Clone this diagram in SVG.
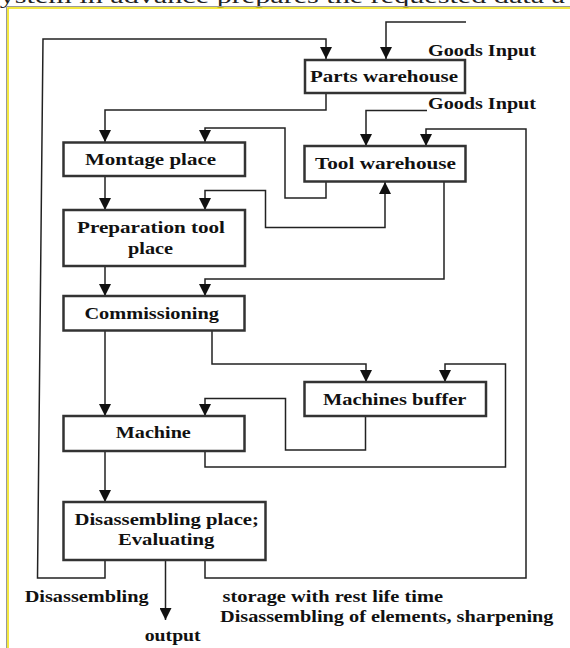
<svg xmlns="http://www.w3.org/2000/svg" width="570" height="648" viewBox="0 0 570 648">
<style>
.box{fill:#fff;stroke:#333;stroke-width:2.5}
.lbl{font-family:"Liberation Serif","Times New Roman",serif;font-weight:bold;font-size:17px;fill:#111}
.c{text-anchor:middle}
.ln{fill:none;stroke:#222;stroke-width:1.5}
.top{font-family:"Liberation Serif","Times New Roman",serif;font-size:22px;fill:#222}
</style>
<defs>
<marker id="ah" markerUnits="userSpaceOnUse" markerWidth="12" markerHeight="12" refX="12" refY="6" orient="auto-start-reverse" viewBox="0 0 12 12">
<path d="M0,0 L12,6 L0,12 z" fill="#111"/>
</marker>
</defs>
<rect width="570" height="648" fill="#fff"/>
<text class="top" x="-12" y="2.5" textLength="577" lengthAdjust="spacingAndGlyphs">system in advance prepares the requested data a</text>
<polyline points="570,6.5 6.5,6.5 6.5,648" fill="none" stroke="#999" stroke-width="1"/>
<polyline points="570,8 8,8 8,648" fill="none" stroke="#f0e000" stroke-width="1.5"/>

<g id="connectors">
<path class="ln" d="M105,560 V578 H37.5 L43,39 H326 V59" marker-end="url(#ah)"/>
<path class="ln" d="M466,22 H386 V59" marker-end="url(#ah)"/>
<path class="ln" d="M326,93 V110 H105 V142" marker-end="url(#ah)"/>
<path class="ln" d="M427,110.5 H366 V146" marker-end="url(#ah)"/>
<path class="ln" d="M326,182 V198 H285 V128 H205 V142" marker-end="url(#ah)"/>
<path class="ln" d="M205,560 V578 H526 V129 H426 V146" marker-end="url(#ah)"/>
<path class="ln" d="M105,176 V210" marker-end="url(#ah)"/>
<path class="ln" d="M205,210 V190.5 H265.5 V227.5 H385 V182" marker-start="url(#ah)" marker-end="url(#ah)"/>
<path class="ln" d="M105,266 V296" marker-end="url(#ah)"/>
<path class="ln" d="M444,182 V279 H205 V296" marker-end="url(#ah)"/>
<path class="ln" d="M105,331 V416" marker-end="url(#ah)"/>
<path class="ln" d="M212,331 V364 H366 V382" marker-end="url(#ah)"/>
<path class="ln" d="M205,451 V467 H505.5 V364 H445 V382" marker-end="url(#ah)"/>
<path class="ln" d="M365.5,416 V450 H285.5 V398.5 H205 V416" marker-end="url(#ah)"/>
<path class="ln" d="M105,451 V502" marker-end="url(#ah)"/>
<path class="ln" d="M165.5,560 V620" marker-end="url(#ah)"/>
</g>

<g id="parts-warehouse">
<rect class="box" x="305" y="60" width="160" height="33"/>
<text class="lbl c" x="384" y="82" textLength="148" lengthAdjust="spacingAndGlyphs">Parts warehouse</text>
</g>
<g id="goods-input-1">
<text class="lbl" x="428" y="56" textLength="108" lengthAdjust="spacingAndGlyphs">Goods Input</text>
</g>
<g id="goods-input-2">
<text class="lbl" x="428" y="109" textLength="108" lengthAdjust="spacingAndGlyphs">Goods Input</text>
</g>
<g id="montage-place">
<rect class="box" x="63.5" y="142.5" width="181.5" height="33.5"/>
<text class="lbl c" x="150.5" y="165" textLength="131" lengthAdjust="spacingAndGlyphs">Montage place</text>
</g>
<g id="tool-warehouse">
<rect class="box" x="304.5" y="146" width="161" height="35.5"/>
<text class="lbl c" x="385.5" y="169" textLength="141" lengthAdjust="spacingAndGlyphs">Tool warehouse</text>
</g>
<g id="preparation-tool-place">
<rect class="box" x="63.5" y="210" width="181.5" height="56"/>
<text class="lbl c" x="151" y="233" textLength="148" lengthAdjust="spacingAndGlyphs">Preparation tool</text>
<text class="lbl c" x="150.5" y="254" textLength="45" lengthAdjust="spacingAndGlyphs">place</text>
</g>
<g id="commissioning">
<rect class="box" x="63.5" y="296" width="181" height="34.5"/>
<text class="lbl c" x="151.7" y="319" textLength="134.5" lengthAdjust="spacingAndGlyphs">Commissioning</text>
</g>
<g id="machines-buffer">
<rect class="box" x="304.5" y="382" width="181.5" height="34"/>
<text class="lbl c" x="394.7" y="405" textLength="143.5" lengthAdjust="spacingAndGlyphs">Machines buffer</text>
</g>
<g id="machine">
<rect class="box" x="63.5" y="416" width="181" height="35"/>
<text class="lbl c" x="153.3" y="438" textLength="75" lengthAdjust="spacingAndGlyphs">Machine</text>
</g>
<g id="disassembling-place">
<rect class="box" x="63.5" y="502" width="202" height="58"/>
<text class="lbl c" x="166.7" y="525" textLength="184.5" lengthAdjust="spacingAndGlyphs">Disassembling place;</text>
<text class="lbl c" x="166.2" y="545" textLength="96.5" lengthAdjust="spacingAndGlyphs">Evaluating</text>
</g>
<g id="labels">
<text class="lbl" x="24.7" y="602" textLength="124" lengthAdjust="spacingAndGlyphs">Disassembling</text>
<text class="lbl" x="144.7" y="641" textLength="56" lengthAdjust="spacingAndGlyphs">output</text>
<text class="lbl" x="222.5" y="602" textLength="220.5" lengthAdjust="spacingAndGlyphs">storage with rest life time</text>
<text class="lbl" x="220" y="622" textLength="333.5" lengthAdjust="spacingAndGlyphs">Disassembling of elements, sharpening</text>
</g>
</svg>
